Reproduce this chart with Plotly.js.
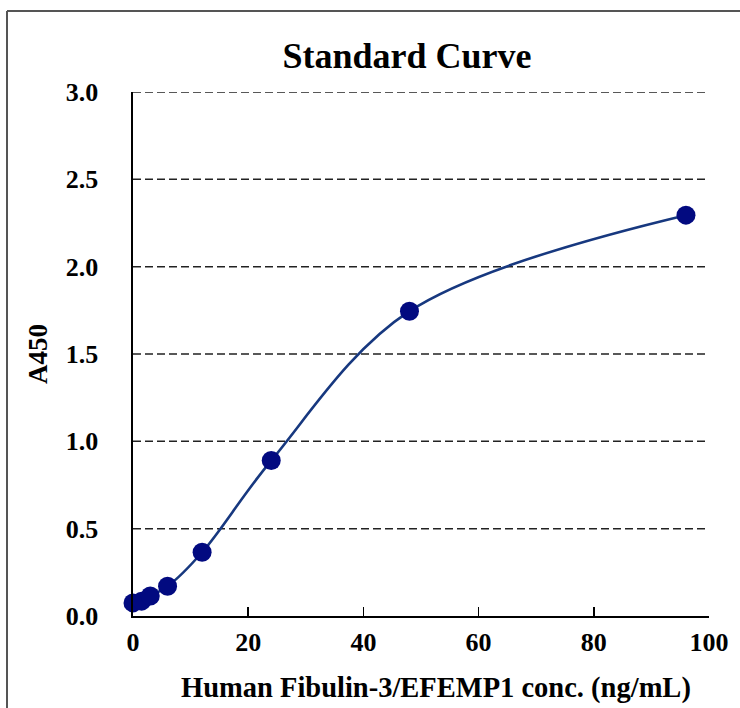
<!DOCTYPE html>
<html>
<head>
<meta charset="utf-8">
<script src="https://cdn.plot.ly/plotly-3.0.1.min.js"></script>
<style>html,body{margin:0;padding:0;background:#fff;}#chart{width:740px;height:708px;}</style>
</head>
<body>
<div id="chart"></div>
<script>
// Data
const concentrations = [0, 1.5, 3, 6, 12, 24, 48, 96];
const absorbance = [0.075, 0.085, 0.115, 0.17, 0.365, 0.89, 1.745, 2.295];
const xTickValues = [0, 20, 40, 60, 80, 100];
const yTickValues = [0, 0.5, 1.0, 1.5, 2.0, 2.5, 3.0];
const yTickLabels = ['0.0', '0.5', '1.0', '1.5', '2.0', '2.5', '3.0'];
const chartTitle = 'Standard Curve';
const xTitle = 'Human Fibulin-3/EFEMP1 conc. (ng/mL)';
const yTitle = 'A450';

const serif = 'Liberation Serif, Times New Roman, serif';
const plotL = 133, plotR = 709, plotT = 92, plotB = 616;
const pw = plotR - plotL, ph = plotB - plotT;
const px = v => (v - plotL) / pw;
const py = v => (plotB - v) / ph;

const traces = [
  {
    x: concentrations, y: absorbance, type: 'scatter', mode: 'lines',
    line: {shape: 'spline', smoothing: 1, color: '#17387f', width: 2.6},
    hoverinfo: 'skip', showlegend: false, cliponaxis: false
  },
  {
    x: concentrations, y: absorbance, type: 'scatter', mode: 'markers',
    marker: {color: '#020a80', size: 19}, showlegend: false, cliponaxis: false
  }
];

const gridShapes = yTickValues.filter(v => v > 0).map(v => ({
  type: 'line', xref: 'paper', yref: 'y', x0: 0, x1: 1, y0: v, y1: v,
  line: {color: '#222', width: 1.5, dash: '8px,4px'}, layer: 'below'
}));

const layout = {
  width: 740, height: 708,
  margin: {l: plotL, r: 740 - plotR, t: plotT, b: 708 - plotB, pad: 0},
  paper_bgcolor: '#fff', plot_bgcolor: '#fff',
  showlegend: false,
  title: {
    text: '<b>' + chartTitle + '</b>',
    font: {family: serif, size: 36, color: '#000'},
    xref: 'paper', x: px(407), xanchor: 'center',
    yref: 'container', y: 1 - 55 / 708, yanchor: 'middle'
  },
  xaxis: {
    range: [0, 100], tickvals: xTickValues, ticktext: xTickValues.map(String),
    ticks: 'inside', ticklen: 9, tickwidth: 1.5, tickcolor: '#000',
    showline: true, linecolor: '#000', linewidth: 1.6,
    showgrid: false, zeroline: false, ticklabelstandoff: 2,
    tickfont: {family: serif, size: 26, color: '#000', weight: 'bold'}
  },
  yaxis: {
    range: [0, 3], tickvals: yTickValues, ticktext: yTickLabels,
    ticks: '', showline: true, linecolor: '#000', linewidth: 1.6,
    showgrid: false, zeroline: false, ticklabelstandoff: 28,
    tickfont: {family: serif, size: 26, color: '#000', weight: 'bold'},
    title: {text: '<b>' + yTitle + '</b>', standoff: 10,
            font: {family: serif, size: 27, color: '#000'}}
  },
  shapes: gridShapes.concat([
    {type: 'line', xref: 'paper', yref: 'paper', x0: px(7), x1: px(740), y0: py(11), y1: py(11),
     line: {color: '#555', width: 2}},
    {type: 'line', xref: 'paper', yref: 'paper', x0: px(7), x1: px(7), y0: py(11), y1: py(730),
     line: {color: '#555', width: 2}}
  ]),
  annotations: [
    {text: '<b>' + xTitle + '</b>', xref: 'paper', yref: 'paper', x: px(436), y: py(688),
     xanchor: 'center', yanchor: 'middle', showarrow: false,
     font: {family: serif, size: 28.5, color: '#000'}}
  ]
};

Plotly.newPlot('chart', traces, layout, {displayModeBar: false, staticPlot: true});
</script>
</body>
</html>
